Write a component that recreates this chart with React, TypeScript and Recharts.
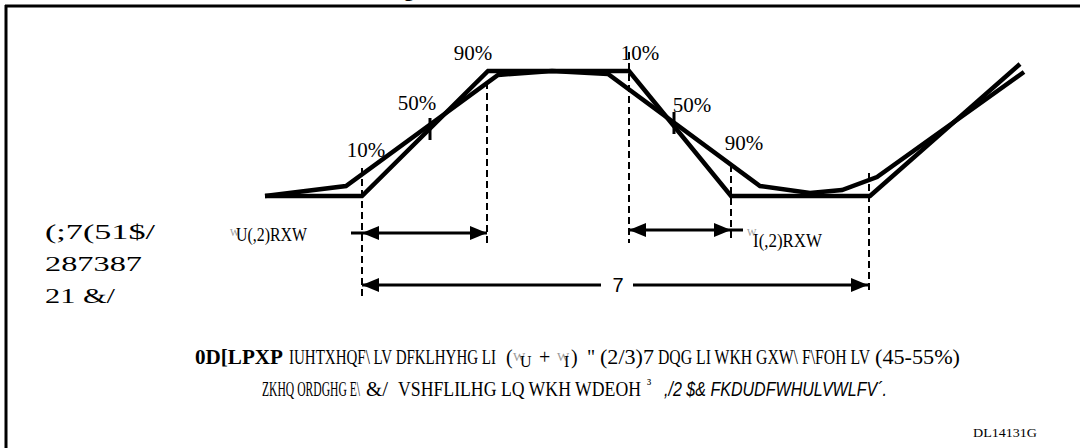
import React from 'react';
import { ComposedChart, Line, XAxis, YAxis, ReferenceLine, ReferenceDot } from 'recharts';

// waveform corners: t = horizontal position, v = depth from the top edge
const idealT = [265, 362, 488, 629, 731, 870, 1020];
const idealV = [196, 196, 71, 71, 196, 196, 64];
const realT = [265, 346, 498, 552, 608, 760, 810, 842, 877, 1024];
const realV = [196, 186, 75, 71, 74, 186, 193, 190, 177, 72];

// dashed timing markers
const markerT = [362, 487, 629, 731, 869];
const markerTop = [168, 82, 52, 165, 173];
const markerBottom = [298, 247, 243, 242, 293];

// 50% crossing ticks
const tickT = [430, 674];
const tickTop = [118, 112];
const tickBottom = [140, 134];

// threshold labels
const pctLabels = ['10%', '50%', '90%', '10%', '50%', '90%'];
const pctT = [366, 417, 473, 640, 692, 744];
const pctV = [157, 110, 60, 60, 112, 150];

// dimension arrows
const shaftY = [233, 230, 285, 285];
const shaftX1 = [351, 629, 362, 633];
const shaftX2 = [487, 743, 601, 868];
const headT = [362, 487, 629, 731, 362, 868];
const headV = [233, 233, 230, 230, 285, 285];
const headDir = [-1, 1, -1, 1, -1, 1];

// side labels
const sideLines = ['(;7(51$/', '287387', '21 &/'];
const sideV = [239, 271, 303];
const sideLen = [110, 97, 70];

const note1 = ['0D[LPXP', 'IUHTXHQF\\ LV DFKLHYHG LI', '"', '(2/3)7', 'DQG LI WKH GXW\\ F\\FOH LV', '(45-55%)'];
const note1X = [195, 289, 587, 600, 658, 875];
const note1Len = [88, 207, 0, 54, 212, 85];
const note2 = ['ZKHQ ORDGHG E\\', '&/', 'VSHFLILHG LQ WKH WDEOH', ',/2 $& FKDUDFWHULVWLFV´.'];
const note2X = [262, 366, 398, 664];
const note2Len = [98, 22, 243, 223];

const serif = '"Liberation Serif", "Times New Roman", serif';
const sans = '"Liberation Sans", Arial, sans-serif';

const ideal = idealT.map((t, i) => ({ t, v: idealV[i] }));
const real = realT.map((t, i) => ({ t, v: realV[i] }));

const txt = (content: string, opts: any = {}) => (p: any) => (
  <text
    x={p.cx}
    y={p.cy}
    fontFamily={opts.family || serif}
    fontSize={opts.size || 19}
    fontWeight={opts.weight || 'normal'}
    fontStyle={opts.style || 'normal'}
    fill={opts.fill || '#000'}
    textAnchor={opts.anchor || 'start'}
    textLength={opts.len || undefined}
    lengthAdjust="spacingAndGlyphs"
  >
    {content}
  </text>
);

const head = (dir: number) => (p: any) => (
  <polygon
    points={`${p.cx},${p.cy} ${p.cx - dir * 17},${p.cy - 7} ${p.cx - dir * 17},${p.cy + 7}`}
    fill="#000"
  />
);

export default function App() {
  return (
    <div style={{ position: 'absolute', left: 0, top: 0, background: '#fff' }}>
      <ComposedChart width={1080} height={448} margin={{ top: 0, right: 0, bottom: 0, left: 0 }}>
        <XAxis type="number" dataKey="t" domain={[0, 1080]} hide allowDataOverflow />
        <YAxis type="number" domain={[0, 448]} reversed hide allowDataOverflow />

        {/* frame */}
        <ReferenceLine segment={[{ x: 5, y: 6 }, { x: 1080, y: 6 }]} stroke="#000" strokeWidth={3} ifOverflow="visible" />
        <ReferenceLine segment={[{ x: 6, y: 5 }, { x: 6, y: 448 }]} stroke="#000" strokeWidth={3} ifOverflow="visible" />
        <ReferenceDot x={402} y={0} r={0} ifOverflow="visible"
          shape={(p: any) => <text x={p.cx} y={p.cy - 4} fontFamily={sans} fontWeight="bold" fontSize={24}>g</text>} />

        {markerT.map((t, i) => (
          <ReferenceLine key={'m' + i} segment={[{ x: t, y: markerTop[i] }, { x: t, y: markerBottom[i] }]}
            stroke="#000" strokeWidth={2} strokeDasharray="7 4" ifOverflow="visible" />
        ))}

        {tickT.map((t, i) => (
          <ReferenceLine key={'k' + i} segment={[{ x: t, y: tickTop[i] }, { x: t, y: tickBottom[i] }]}
            stroke="#000" strokeWidth={3} ifOverflow="visible" />
        ))}

        <Line data={ideal} dataKey="v" type="linear" stroke="#000" strokeWidth={4.5} dot={false}
          activeDot={false} strokeLinejoin="miter" isAnimationActive={false} />
        <Line data={real} dataKey="v" type="linear" stroke="#000" strokeWidth={4.5} dot={false}
          activeDot={false} strokeLinejoin="miter" isAnimationActive={false} />

        {shaftY.map((y, i) => (
          <ReferenceLine key={'s' + i} segment={[{ x: shaftX1[i], y }, { x: shaftX2[i], y }]}
            stroke="#000" strokeWidth={3} ifOverflow="visible" />
        ))}
        {headT.map((t, i) => (
          <ReferenceDot key={'h' + i} x={t} y={headV[i]} r={0} ifOverflow="visible" shape={head(headDir[i])} />
        ))}

        {pctLabels.map((s, i) => (
          <ReferenceDot key={'p' + i} x={pctT[i]} y={pctV[i]} r={0} ifOverflow="visible"
            shape={txt(s, { size: 21, anchor: 'middle' })} />
        ))}

        <ReferenceDot x={618} y={292} r={0} ifOverflow="visible" shape={txt('7', { family: sans, size: 20, anchor: 'middle' })} />

        {/* t rise / t fall labels */}
        <ReferenceDot x={230} y={236} r={0} ifOverflow="visible" shape={txt('W', { size: 10, fill: '#999' })} />
        <ReferenceDot x={236} y={241} r={0} ifOverflow="visible" shape={txt('U(,2)RXW', { size: 18, len: 71 })} />
        <ReferenceDot x={747} y={236} r={0} ifOverflow="visible" shape={txt('W', { size: 10, fill: '#999' })} />
        <ReferenceDot x={753} y={247} r={0} ifOverflow="visible" shape={txt('I(,2)RXW', { size: 18, len: 69 })} />

        {sideLines.map((s, i) => (
          <ReferenceDot key={'l' + i} x={45} y={sideV[i]} r={0} ifOverflow="visible"
            shape={txt(s, { size: 20, len: sideLen[i] })} />
        ))}

        {note1.map((s, i) => (
          <ReferenceDot key={'a' + i} x={note1X[i]} y={364} r={0} ifOverflow="visible"
            shape={txt(s, {
              size: i === 0 || i === 3 || i === 5 ? 21 : 20,
              weight: i === 0 ? 'bold' : 'normal',
              len: note1Len[i],
            })} />
        ))}
        <ReferenceDot x={506} y={364} r={0} ifOverflow="visible"
          shape={(p: any) => (
            <text y={p.cy} fontFamily={serif} fontSize={20}>
              <tspan x={p.cx}>(</tspan>
              <tspan x={p.cx + 7} y={p.cy - 3} fontSize={13} fill="#999">W</tspan>
              <tspan x={p.cx + 14} y={p.cy + 3} fontSize={16}>U</tspan>
              <tspan x={p.cx + 33} y={p.cy}>+</tspan>
              <tspan x={p.cx + 51} y={p.cy - 3} fontSize={13} fill="#999">W</tspan>
              <tspan x={p.cx + 58} y={p.cy + 3} fontSize={16}>I</tspan>
              <tspan x={p.cx + 65} y={p.cy}>)</tspan>
            </text>
          )} />

        {note2.map((s, i) => (
          <ReferenceDot key={'b' + i} x={note2X[i]} y={396} r={0} ifOverflow="visible"
            shape={txt(s, {
              size: 20,
              family: i === 3 ? sans : serif,
              style: i === 3 ? 'italic' : 'normal',
              len: note2Len[i],
            })} />
        ))}
        <ReferenceDot x={647} y={389} r={0} ifOverflow="visible" shape={txt('³', { size: 14 })} />

        <ReferenceDot x={973} y={437} r={0} ifOverflow="visible" shape={txt('DL14131G', { size: 13, len: 64 })} />
      </ComposedChart>
    </div>
  );
}
